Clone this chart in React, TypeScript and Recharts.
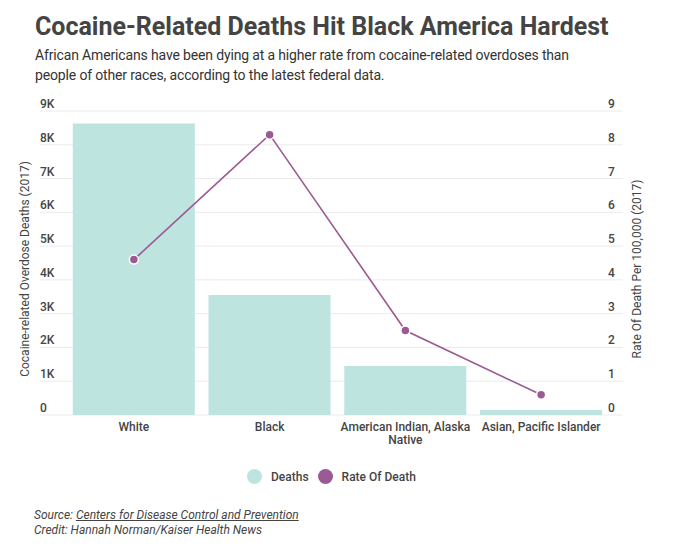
import React from "react";
import {
  Bar,
  CartesianGrid,
  ComposedChart,
  Line,
  XAxis,
  YAxis,
} from "recharts";

const categories = [
  "White",
  "Black",
  "American Indian, Alaska Native",
  "Asian, Pacific Islander",
];
// how each category label wraps under the axis
const categoryLines = [
  ["White"],
  ["Black"],
  ["American Indian, Alaska", "Native"],
  ["Asian, Pacific Islander"],
];
const deaths = [8630, 3550, 1450, 150];
const rateOfDeath = [4.6, 8.3, 2.5, 0.6];
const deathTicks = [0, 1000, 2000, 3000, 4000, 5000, 6000, 7000, 8000, 9000];
const deathTickLabels = ["0", "1K", "2K", "3K", "4K", "5K", "6K", "7K", "8K", "9K"];
const rateTicks = [0, 1, 2, 3, 4, 5, 6, 7, 8, 9];

const data = categories.map((name, i) => ({
  name,
  deaths: deaths[i],
  rate: rateOfDeath[i],
}));

const TEAL = "#bde4de";
const PURPLE = "#9b5a93";
const FONT = "Roboto, 'Noto Sans', sans-serif";
const INK = "#444";

function LeftTick({ y, payload }: any) {
  const idx = deathTicks.indexOf(payload.value);
  return (
    <text x={40} y={y - 3} fontSize={12} fontWeight={500} fill={INK} fontFamily={FONT}>
      {deathTickLabels[idx]}
    </text>
  );
}

function RightTick({ y, payload }: any) {
  return (
    <text x={608} y={y - 3} fontSize={12} fontWeight={500} fill={INK} fontFamily={FONT}>
      {payload.value}
    </text>
  );
}

function CategoryTick({ x, y, payload }: any) {
  const idx = categories.indexOf(payload.value);
  const lines = categoryLines[idx] || [payload.value];
  return (
    <text
      x={x}
      y={y + 8}
      textAnchor="middle"
      fontSize={12}
      fontWeight={500}
      fill={INK}
      fontFamily={FONT}
    >
      {lines.map((line, i) => (
        <tspan key={i} x={x} dy={i === 0 ? 0 : 13}>
          {line}
        </tspan>
      ))}
    </text>
  );
}

function AxisTitle({ viewBox, value, side }: any) {
  const cx = side === "left" ? 29 : 641;
  const cy = viewBox.y + viewBox.height / 2 + 6;
  return (
    <text
      x={cx}
      y={cy}
      transform={`rotate(-90 ${cx} ${cy})`}
      textAnchor="middle"
      fontSize={12}
      fill={INK}
      fontFamily={FONT}
    >
      {value}
    </text>
  );
}

export default function App() {
  return (
    <div
      style={{
        position: "absolute",
        left: 0,
        top: 0,
        width: 675,
        height: 550,
        background: "#fff",
        fontFamily: FONT,
        color: INK,
      }}
    >
      <div
        style={{
          position: "absolute",
          left: 35,
          top: 12,
          fontSize: 25,
          fontWeight: 700,
          color: "#444",
          whiteSpace: "nowrap",
        }}
      >
        Cocaine-Related Deaths Hit Black America Hardest
      </div>
      <div
        style={{
          position: "absolute",
          left: 35,
          top: 45,
          width: 560,
          fontSize: 14,
          letterSpacing: -0.15,
          lineHeight: "20px",
          color: "#333",
        }}
      >
        African Americans have been dying at a higher rate from cocaine-related overdoses than
        people of other races, according to the latest federal data.
      </div>

      <div style={{ position: "absolute", left: 0, top: 0 }}>
        <ComposedChart
          width={675}
          height={550}
          data={data}
          margin={{ top: 111, right: 51, bottom: 134, left: 39 }}
          barCategoryGap="5%"
        >
          <CartesianGrid yAxisId="left" horizontal vertical={false} stroke="#ebebeb" />
          <XAxis
            dataKey="name"
            height={1}
            axisLine={false}
            tickLine={false}
            interval={0}
            padding={{ left: 26, right: 14 }}
            tick={<CategoryTick />}
          />
          <YAxis
            yAxisId="left"
            width={1}
            domain={[0, 9000]}
            ticks={deathTicks}
            axisLine={false}
            tickLine={false}
            tick={<LeftTick />}
            label={{
              content: (p: any) => (
                <AxisTitle {...p} side="left" value="Cocaine-related Overdose Deaths (2017)" />
              ),
            }}
          />
          <YAxis
            yAxisId="right"
            orientation="right"
            width={1}
            domain={[0, 9]}
            ticks={rateTicks}
            axisLine={false}
            tickLine={false}
            tick={<RightTick />}
            label={{
              content: (p: any) => (
                <AxisTitle {...p} side="right" value="Rate Of Death Per 100,000 (2017)" />
              ),
            }}
          />
          <Bar yAxisId="left" dataKey="deaths" name="Deaths" fill={TEAL} isAnimationActive={false} />
          <Line
            yAxisId="right"
            dataKey="rate"
            name="Rate Of Death"
            stroke={PURPLE}
            strokeWidth={1.6}
            dot={{ r: 4.5, fill: PURPLE, stroke: "#fff", strokeWidth: 1.5 }}
            activeDot={false}
            isAnimationActive={false}
          />
        </ComposedChart>
      </div>

      <div
        style={{
          position: "absolute",
          left: 247,
          top: 469,
          display: "flex",
          alignItems: "center",
          fontSize: 12,
          fontWeight: 500,
          color: INK,
        }}
      >
        <span
          style={{ width: 15, height: 15, borderRadius: 8, background: TEAL, display: "inline-block" }}
        />
        <span style={{ marginLeft: 9, marginRight: 9 }}>Deaths</span>
        <span
          style={{ width: 15, height: 15, borderRadius: 8, background: PURPLE, display: "inline-block" }}
        />
        <span style={{ marginLeft: 9 }}>Rate Of Death</span>
      </div>

      <div
        style={{
          position: "absolute",
          left: 34,
          top: 508,
          fontSize: 12,
          fontStyle: "italic",
          lineHeight: "15px",
          color: INK,
        }}
      >
        <div>
          Source: <span style={{ textDecoration: "underline" }}>Centers for Disease Control and Prevention</span>
        </div>
        <div>Credit: Hannah Norman/Kaiser Health News</div>
      </div>
    </div>
  );
}
